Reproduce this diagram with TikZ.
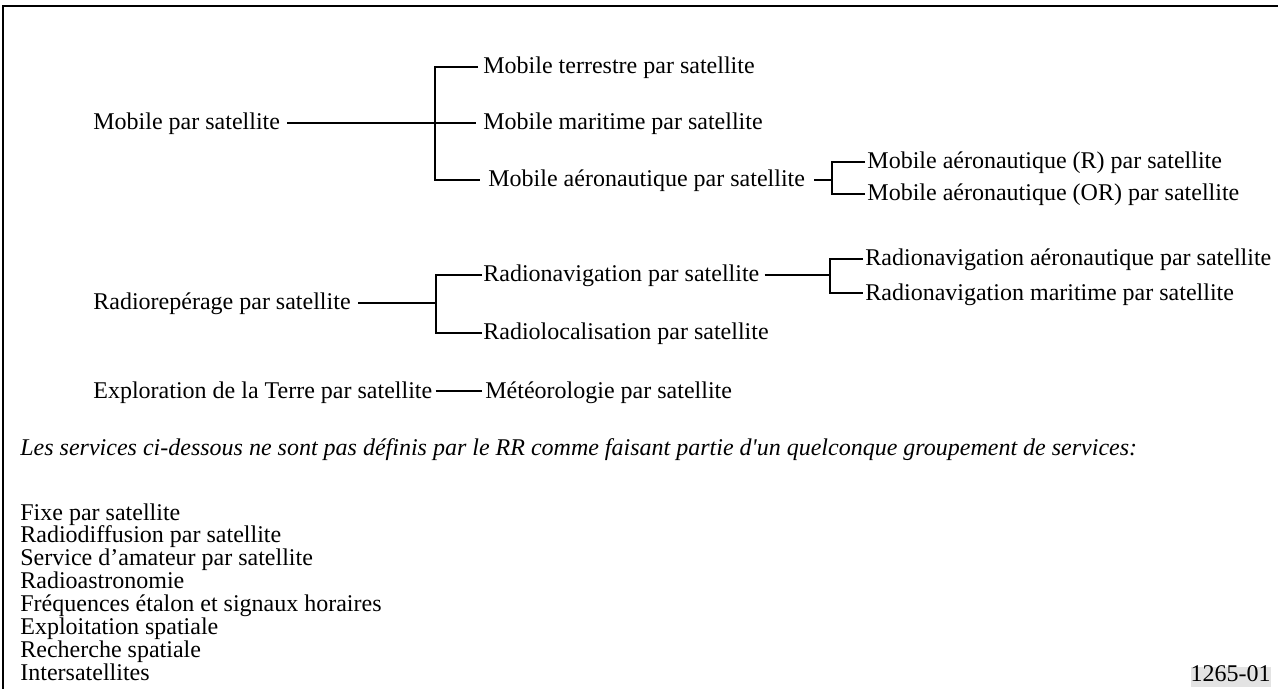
\documentclass[tikz,border=0pt]{standalone}
\usepackage{fontspec}
\setmainfont{Liberation Serif}
\usepackage{tikz}

\begin{document}
\begin{tikzpicture}[x=0.5pt,y=-0.5pt,
  txt/.style={anchor=west,inner sep=0pt,text height=8.5pt,text depth=1.5pt,font=\fontsize{12}{14}\selectfont},
  trunk/.style={line width=1.3pt},
  twig/.style={line width=0.6pt}]
  \useasboundingbox (0,0) rectangle (1278,689);
  \draw[line width=0.8pt] (1278,6) -- (3,6) -- (3,689);

  % mobile par satellite
  \node[txt] (mps) at (93,123) {Mobile par satellite};
  \node[txt] (mts) at (483,67) {Mobile terrestre par satellite};
  \node[txt] (mmps) at (483,123) {Mobile maritime par satellite};
  \node[txt] (maps) at (488,180) {Mobile aéronautique par satellite};
  \node[txt] (mar) at (867,162) {Mobile aéronautique (R) par satellite};
  \node[txt] (maor) at (867,194) {Mobile aéronautique (OR) par satellite};
  \coordinate (jm) at (435,123);
  \coordinate (ja) at (832,180);
  \draw[trunk] ([xshift=3.5pt]mps.east) -- ([xshift=-3.5pt]mmps.west);
  \draw[twig] ([xshift=-2.5pt]mts.west) -| (jm) |- ([xshift=-4pt]maps.west);
  \draw[trunk] ([xshift=4.5pt]maps.east) -- (ja);
  \draw[twig] ([xshift=-1pt]mar.west) -| (ja) |- ([xshift=-1pt]maor.west);

  % radiorepérage
  \node[txt] (rps) at (93,303) {Radiorepérage par satellite};
  \node[txt] (rnps) at (483,275) {Radionavigation par satellite};
  \node[txt] (rlps) at (483,333) {Radiolocalisation par satellite};
  \node[txt] (rnaps) at (865,259) {Radionavigation aéronautique par satellite};
  \node[txt] (rnmps) at (865,293) {Radionavigation maritime par satellite};
  \coordinate (jr) at (436,303);
  \coordinate (jn) at (830,275);
  \draw[trunk] ([xshift=3.5pt]rps.east) -- (jr);
  \draw[twig] ([xshift=-0.5pt]rnps.west) -| (jr) |- ([xshift=-0.5pt]rlps.west);
  \draw[trunk] ([xshift=2.5pt]rnps.east) -- (jn);
  \draw[twig] ([xshift=-1pt]rnaps.west) -| (jn) |- ([xshift=-1pt]rnmps.west);

  % exploration de la Terre
  \node[txt] (ets) at (93,391) {Exploration de la Terre par satellite};
  \node[txt] (mets) at (485,391) {Météorologie par satellite};
  \draw[trunk] ([xshift=1.5pt]ets.east) -- ([xshift=-1.5pt]mets.west);

  % services hors groupement
  \node[txt,font=\fontsize{12}{14}\selectfont\itshape] (note) at (20,448)
    {Les services ci-dessous ne sont pas définis par le RR comme faisant partie d\textquotesingle un quelconque groupement de services:};
  \foreach \t [count=\i from 0] in {Fixe par satellite,Radiodiffusion par satellite,
    Service d’amateur par satellite,Radioastronomie,Fréquences étalon et signaux horaires,
    Exploitation spatiale,Recherche spatiale,Intersatellites}
    \node[txt] (svc\i) at (20,513+22.9*\i) {\t};

  \node[inner sep=0pt,anchor=east,text height=7pt,text depth=3pt,fill=gray!22,font=\fontsize{12}{14}\selectfont] (fig) at (1271,677) {1265-01};
\end{tikzpicture}
\end{document}
